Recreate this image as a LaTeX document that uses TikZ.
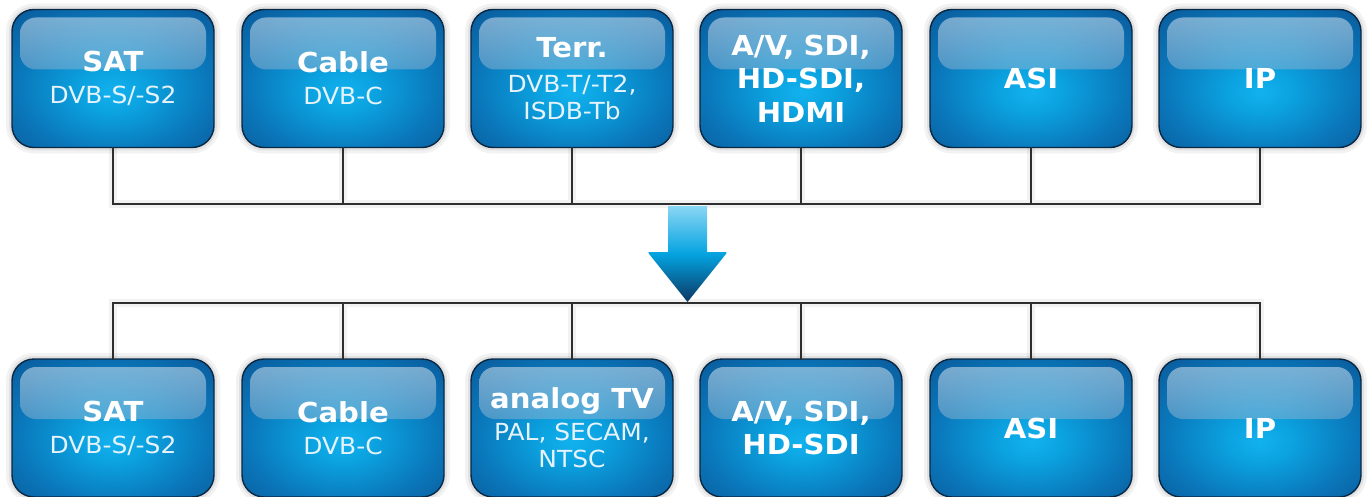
\documentclass[tikz,border=0pt]{standalone}
\usepackage{fontspec}
\setmainfont{DejaVu Sans}[FakeStretch=1.06]
\definecolor{glowc}{HTML}{12B2EE}
\definecolor{glowb}{HTML}{0BA2E0}
\definecolor{midb}{HTML}{0A76B9}
\definecolor{deepb}{HTML}{0A5898}
\definecolor{edgeb}{HTML}{0A4881}
\definecolor{rimb}{HTML}{0A2743}
\definecolor{glosstop}{HTML}{F4F8FC}
\definecolor{glossmid}{HTML}{6FA6D6}
\definecolor{glossbot}{HTML}{0A5898}
\definecolor{linec}{HTML}{2E2E2E}
\definecolor{arrtopc}{HTML}{8AD6F4}
\definecolor{arrmidc}{HTML}{04A3E0}
\definecolor{arrbotc}{HTML}{0B3763}
\definecolor{subc}{HTML}{E6F3FB}
\pgfdeclareradialshading{boxglow}{\pgfpoint{0bp}{-5bp}}{color(0bp)=(glowc); color(8bp)=(glowb); color(24bp)=(midb); color(38bp)=(deepb); color(50bp)=(edgeb); color(70bp)=(edgeb)}
\newcommand\ttl[1]{{\bfseries\fontsize{27.5}{31}\selectfont #1}}
\tikzset{
  srcbox/.style={minimum width=202pt, minimum height=138pt, rounded corners=22pt,
    draw=rimb, line width=1.4pt, shading=boxglow, text=white, align=center,
    font=\fontsize{23.5}{27}\selectfont, inner sep=0pt,
    preaction={draw=black, opacity=0.05, line width=12pt},
    preaction={draw=black, opacity=0.07, line width=6pt},
    path picture={\shade[top color=glosstop, middle color=glossmid, bottom color=glossbot, opacity=0.5, rounded corners=16pt]
      ([xshift=8pt,yshift=-8pt]path picture bounding box.north west) rectangle
      ([xshift=-8pt,yshift=-60pt]path picture bounding box.north east);}},
  bus/.style={draw=linec, line width=2.6pt, line cap=rect,
    preaction={draw=black, opacity=0.05, line width=8pt, line cap=butt}},
}
\begin{document}
\begin{tikzpicture}[x=1pt,y=-1pt]
\useasboundingbox (0,0) rectangle (1372,497);
% bus levels
\coordinate (tb) at (0,204);
\coordinate (bb) at (0,303);
% top row
\node[srcbox] (t1) at (113,78.5) {\ttl{SAT}\\[5pt]{\color{subc}DVB-S/-S2}};
\node[srcbox] (t2) at (343,78.5) {\ttl{Cable}\\[5pt]{\color{subc}DVB-C}};
\node[srcbox] (t3) at (572,78.5) {\ttl{Terr.}\\[8pt]{\color{subc}DVB-T/-T2,}\\{\color{subc}ISDB-Tb}};
\node[srcbox] (t4) at (801,78.5) {\ttl{A/V,\,\,SDI,}\\[6.5pt]\ttl{HD-SDI,}\\[6.5pt]\ttl{HDMI}};
\node[srcbox] (t5) at (1031,78.5) {\ttl{ASI}};
\node[srcbox] (t6) at (1260,78.5) {\ttl{IP}};
% bottom row
\node[srcbox] (b1) at (113,428) {\ttl{SAT}\\[5pt]{\color{subc}DVB-S/-S2}};
\node[srcbox] (b2) at (343,428) {\ttl{Cable}\\[5pt]{\color{subc}DVB-C}};
\node[srcbox] (b3) at (572,428) {\ttl{analog TV}\\[5pt]{\color{subc}PAL, SECAM,}\\{\color{subc}NTSC}};
\node[srcbox] (b4) at (801,428) {\ttl{A/V,\,\,SDI,}\\[6.5pt]\ttl{HD-SDI}};
\node[srcbox] (b5) at (1031,428) {\ttl{ASI}};
\node[srcbox] (b6) at (1260,428) {\ttl{IP}};
% buses (one path each)
\draw[bus] (t1.south) -- (t1.south |- tb) -- (t6.south |- tb) -- (t6.south)
  (t2.south) -- (t2.south |- tb) (t3.south) -- (t3.south |- tb)
  (t4.south) -- (t4.south |- tb) (t5.south) -- (t5.south |- tb);
\draw[bus] (b1.north) -- (b1.north |- bb) -- (b6.north |- bb) -- (b6.north)
  (b2.north) -- (b2.north |- bb) (b3.north) -- (b3.north |- bb)
  (b4.north) -- (b4.north |- bb) (b5.north) -- (b5.north |- bb);
% arrow
\coordinate (atop) at (687.5,206);
\coordinate (atip) at (687.5,302);
\shade[top color=arrtopc, bottom color=arrbotc, middle color=arrmidc]
  ([xshift=-19.5pt]atop) -- ([xshift=19.5pt]atop) -- ([xshift=19.5pt]atop |- 0,252)
  [rounded corners=2pt] -- ([xshift=40pt]atop |- 0,252) [sharp corners] -- (atip)
  [rounded corners=2pt] -- ([xshift=-40pt]atop |- 0,252) [sharp corners] -- ([xshift=-19.5pt]atop |- 0,252) -- cycle;
\end{tikzpicture}
\end{document}
